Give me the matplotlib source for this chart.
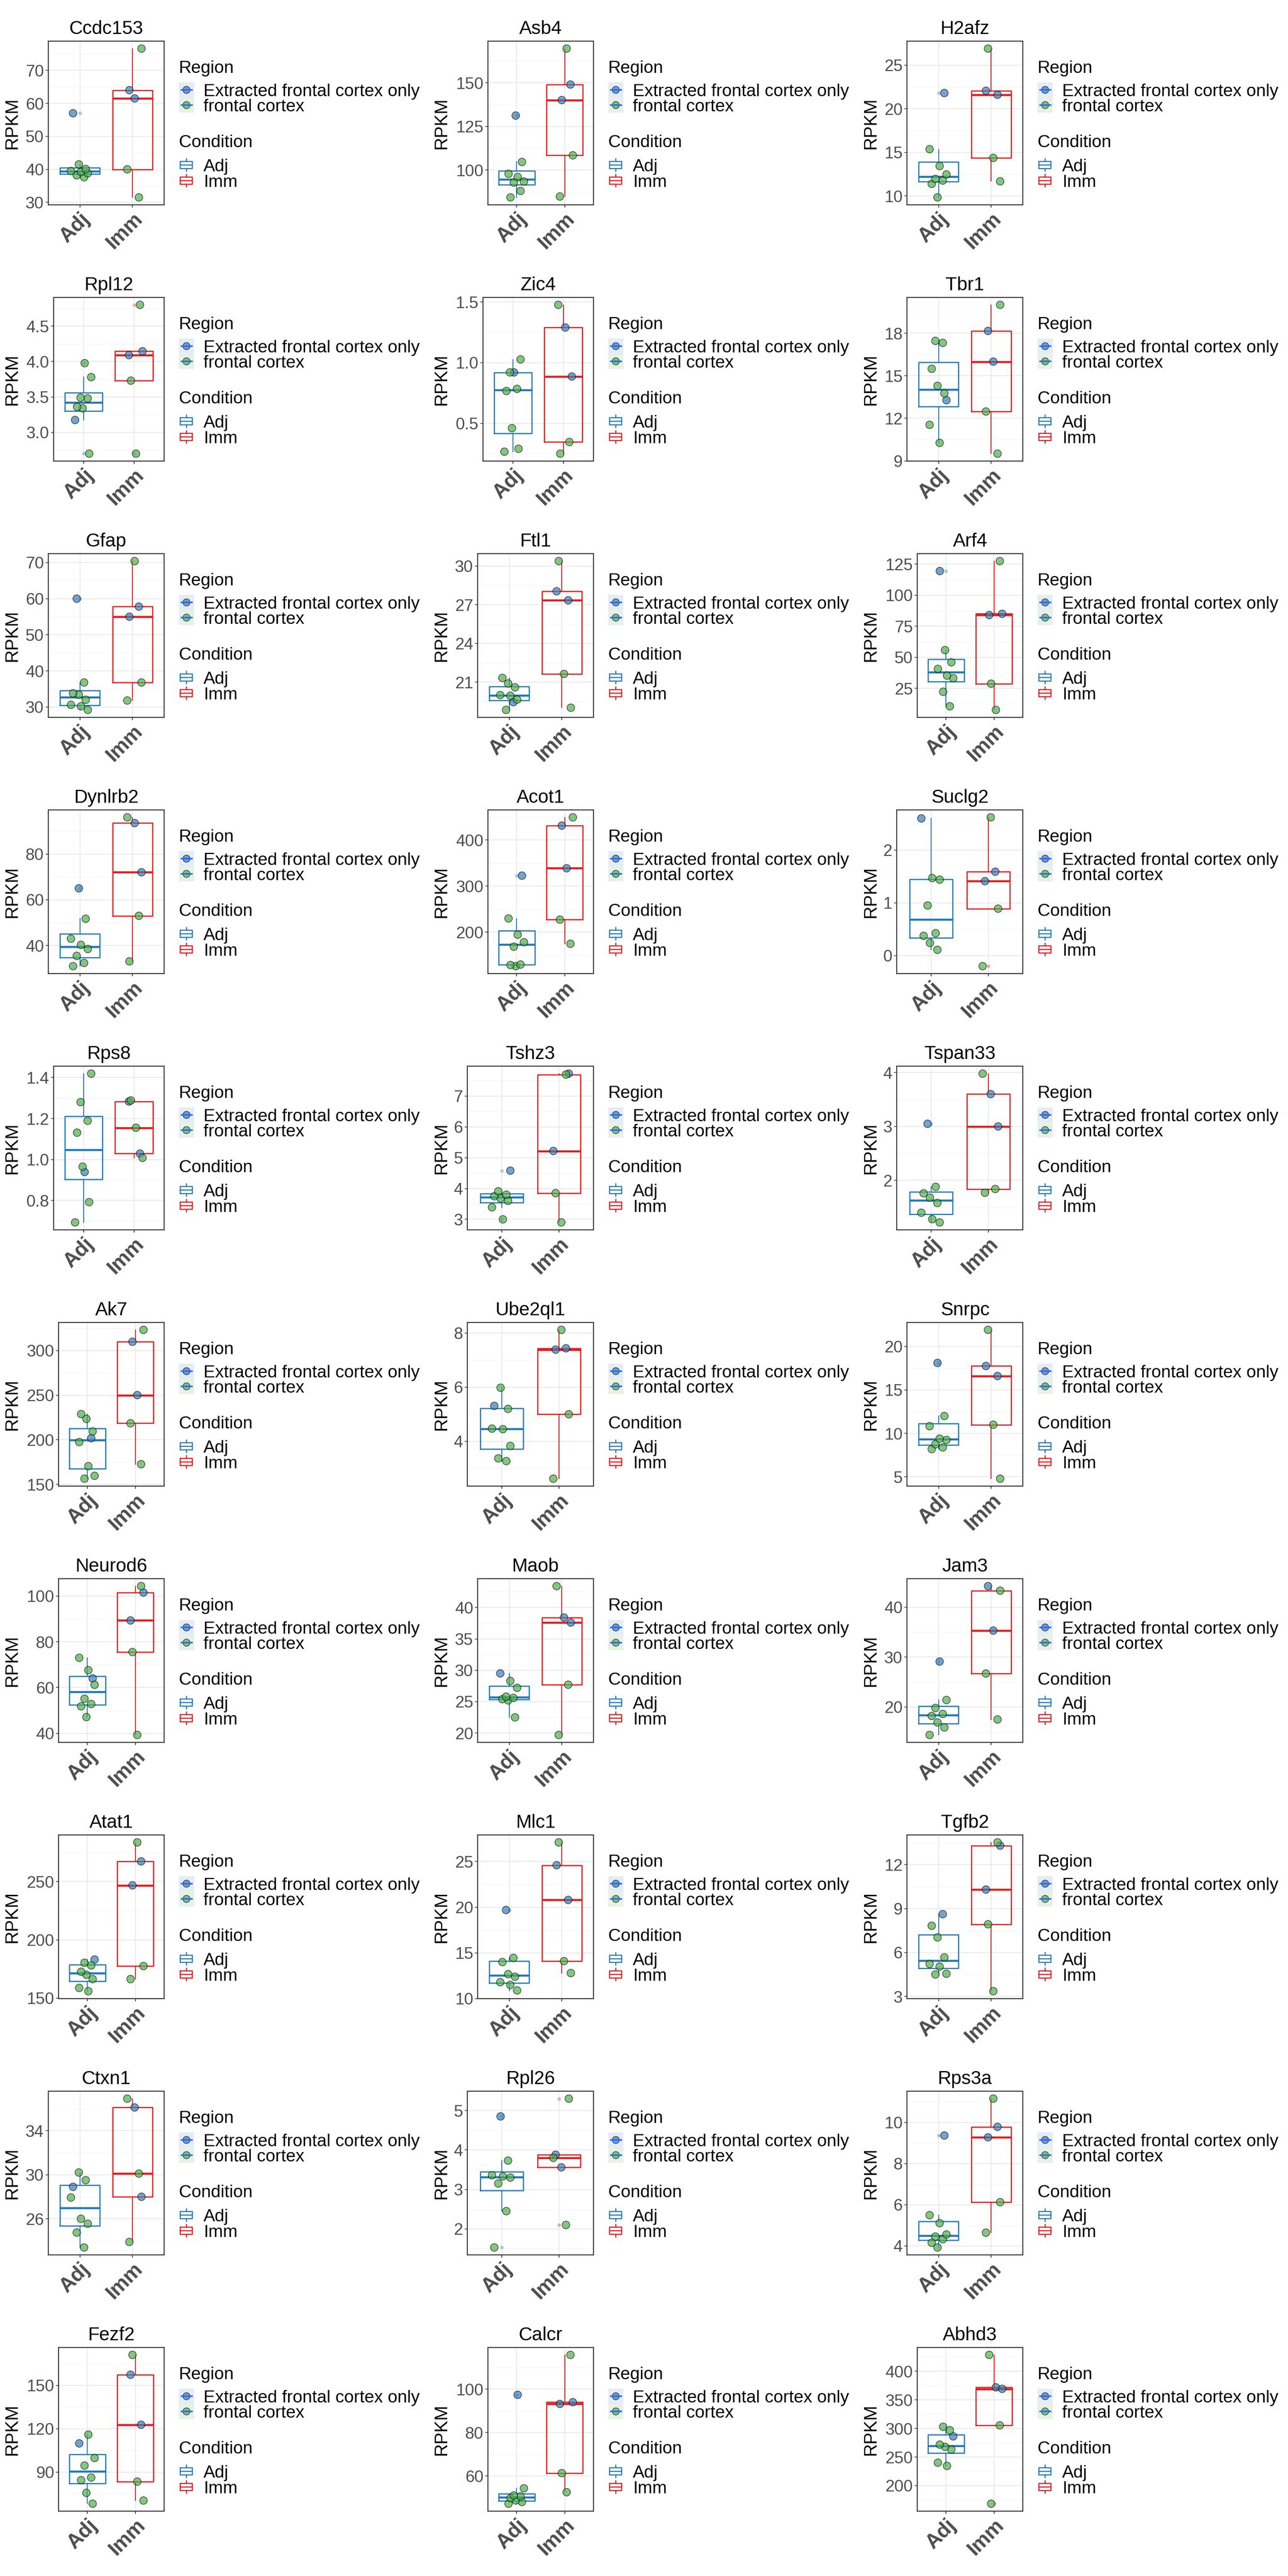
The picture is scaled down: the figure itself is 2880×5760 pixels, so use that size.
import numpy as np
import matplotlib
matplotlib.use('Agg')
import matplotlib.pyplot as plt
from matplotlib.patches import Rectangle, Circle

plt.rcParams['font.family'] = ['Liberation Sans', 'DejaVu Sans']

# ---- data (RPKM per sample) ----
genes = ['Ccdc153', 'Asb4', 'H2afz', 'Rpl12', 'Zic4', 'Tbr1',
         'Gfap', 'Ftl1', 'Arf4', 'Dynlrb2', 'Acot1', 'Suclg2',
         'Rps8', 'Tshz3', 'Tspan33', 'Ak7', 'Ube2ql1', 'Snrpc',
         'Neurod6', 'Maob', 'Jam3', 'Atat1', 'Mlc1', 'Tgfb2',
         'Ctxn1', 'Rpl26', 'Rps3a', 'Fezf2', 'Calcr', 'Abhd3']

# Adj group: one "Extracted frontal cortex only" sample + 7 "frontal cortex"
adj_blue = [57.0, 131.2, 21.8, 3.175, 0.92, 13.28,
            60.0, 19.45, 119.4, 65.0, 322.5, 2.6,
            0.939, 4.58, 3.05, 201.8, 5.31, 18.1,
            64.0, 29.5, 29.1, 183.1, 19.7, 8.62,
            28.9, 4.85, 9.36, 109.8, 97.4, 286.2]

adj_green = [
    [37.6, 38.2, 38.8, 39.2, 39.5, 40.1, 41.5],
    [84.3, 88.0, 92.8, 93.4, 96.0, 97.8, 104.6],
    [9.83, 11.38, 11.76, 11.95, 12.46, 13.43, 15.36],
    [2.70, 3.34, 3.36, 3.48, 3.49, 3.78, 3.977],
    [0.266, 0.29, 0.46, 0.767, 0.784, 0.92, 1.027],
    [10.27, 11.54, 13.76, 14.29, 15.49, 17.32, 17.46],
    [29.2, 30.2, 30.6, 32.0, 33.4, 33.8, 36.8],
    [18.85, 19.65, 19.95, 20.0, 20.6, 20.9, 21.33],
    [10.6, 22.3, 33.2, 35.3, 40.7, 46.0, 55.8],
    [31.0, 32.4, 35.5, 38.5, 40.3, 43.0, 51.7],
    [126, 128.5, 129.5, 168.3, 178, 194.4, 229.6],
    [0.11, 0.24, 0.375, 0.425, 0.95, 1.44, 1.47],
    [0.693, 0.792, 0.965, 1.131, 1.189, 1.28, 1.419],
    [3.0, 3.39, 3.60, 3.68, 3.75, 3.80, 3.91],
    [1.22, 1.28, 1.40, 1.58, 1.68, 1.76, 1.88],
    [156.5, 159.7, 170.5, 197.5, 209.4, 223.4, 228.8],
    [3.27, 3.37, 3.83, 4.45, 4.47, 5.2, 5.98],
    [8.2, 8.4, 8.75, 9.25, 9.4, 10.83, 12.0],
    [47.1, 51.8, 52.8, 55.1, 61.2, 67.6, 73.0],
    [22.5, 25.2, 25.4, 25.6, 25.8, 27.2, 28.3],
    [14.4, 15.9, 16.9, 18.2, 18.6, 19.8, 21.4],
    [155.9, 158.7, 166.3, 170, 172.6, 178, 180.3],
    [10.9, 11.5, 11.8, 12.4, 12.68, 14.0, 14.46],
    [4.5, 4.55, 5.04, 5.22, 5.67, 7.03, 7.83],
    [23.4, 24.75, 25.55, 26.0, 27.93, 29.5, 30.2],
    [1.53, 2.45, 3.15, 3.3, 3.33, 3.36, 3.73],
    [3.92, 4.15, 4.32, 4.45, 4.55, 5.1, 5.49],
    [68.1, 75.6, 84.4, 86.2, 94.5, 99.7, 115.9],
    [47.2, 48.0, 48.7, 49.8, 50.6, 51.0, 54.3],
    [234.5, 240.2, 263.2, 267.8, 271.8, 297, 302.9],
]

# Imm group: two "Extracted" + three "frontal cortex"
imm_blue = [
    [64.0, 61.5], [149.0, 140.1], [22.06, 21.6], [4.145, 4.09], [1.29, 0.886], [18.16, 16.0],
    [57.8, 55.0], [28.05, 27.35], [85.0, 84.0], [93.5, 72.0], [431, 338.5], [1.59, 1.41],
    [1.283, 1.029], [7.73, 5.22], [3.60, 3.0], [309.7, 250], [7.44, 7.39], [17.75, 16.6],
    [101.5, 89.3], [38.4, 37.6], [44.2, 35.3], [267.4, 246.8], [24.6, 20.8], [13.3, 10.3],
    [36.1, 28.0], [3.88, 3.56], [9.78, 9.27], [157.3, 122.7], [94.0, 93.2], [372, 369.3],
]

imm_green = [
    [76.6, 40.0, 31.5], [169.6, 108.4, 84.8], [26.9, 14.36, 11.67], [4.80, 3.73, 2.70],
    [1.477, 0.346, 0.25], [20.0, 12.48, 9.51],
    [70.4, 36.8, 31.8], [30.39, 21.64, 19.02], [127.4, 28.8, 7.7], [96.0, 53.0, 33.1],
    [449, 227, 174.6], [2.62, 0.89, -0.2],
    [1.288, 1.155, 1.008], [7.70, 3.85, 2.9], [3.98, 1.84, 1.77], [323, 218.5, 172.7],
    [8.12, 5.0, 2.62], [21.9, 11.0, 4.8],
    [104.3, 75.5, 39.3], [43.4, 27.7, 19.7], [43.3, 26.7, 17.5], [283.7, 177.5, 166.3],
    [27.1, 14.1, 12.8], [13.52, 7.93, 3.36],
    [36.9, 30.1, 23.9], [5.3, 3.8, 2.1], [11.15, 6.12, 4.64], [171, 83.4, 70.3],
    [115.8, 61.3, 52.5], [428.7, 305.5, 168.4],
]

yticks = [
    [30, 40, 50, 60, 70], [100, 125, 150], [10, 15, 20, 25], [3.0, 3.5, 4.0, 4.5], [0.5, 1.0, 1.5], [9, 12, 15, 18],
    [30, 40, 50, 60, 70], [21, 24, 27, 30], [25, 50, 75, 100, 125], [40, 60, 80], [200, 300, 400], [0, 1, 2],
    [0.8, 1.0, 1.2, 1.4], [3, 4, 5, 6, 7], [2, 3, 4], [150, 200, 250, 300], [4, 6, 8], [5, 10, 15, 20],
    [40, 60, 80, 100], [20, 25, 30, 35, 40], [20, 30, 40], [150, 200, 250], [10, 15, 20, 25], [3, 6, 9, 12],
    [26, 30, 34], [2, 3, 4, 5], [4, 6, 8, 10], [90, 120, 150], [60, 80, 100], [200, 250, 300, 350, 400],
]

conditions = ['Adj', 'Imm']
regions = ['Extracted frontal cortex only', 'frontal cortex']

# ---- style ----
COL_ADJ = '#1F78B4'
COL_IMM = '#E31A1C'
FILL_BLUE = '#377EB8'
FILL_GREEN = '#4DAF4A'
KEY_LINE = '#3366FF'
GREY30 = '#4D4D4D'

W, H = 2880, 5760
DPI = 200
PX = 72 / DPI          # points per pixel
COLW, ROWH = 960, 573

jit_adj = [-0.13, 0.08, -0.06, 0.15, 0.02, -0.17, 0.11, -0.02]
jit_imm = [-0.06, 0.04, 0.17, -0.10, 0.12]

fig = plt.figure(figsize=(W / DPI, H / DPI), dpi=DPI)
fig.patch.set_facecolor('white')

# overlay in pixel coordinates for titles / legends
ov = fig.add_axes([0, 0, 1, 1], zorder=10)
ov.set_xlim(0, W)
ov.set_ylim(H, 0)
ov.axis('off')
ov.patch.set_alpha(0)


def fmt_ticks(t):
    if any(isinstance(v, float) for v in t):
        return ['%.1f' % v for v in t]
    return [str(v) for v in t]


for i, gene in enumerate(genes):
    r, c = divmod(i, 3)
    x0, y0 = COLW * c, ROWH * r
    labs = fmt_ticks(yticks[i])
    nch = max(sum(0.5 if ch == '.' else 1 for ch in s) for s in labs)
    left = x0 + 62 + 23 * nch
    right = x0 + 367
    top, bottom = y0 + 92, y0 + 458

    ax = fig.add_axes([left / W, 1 - bottom / H, (right - left) / W, (bottom - top) / H])

    adj = [adj_blue[i]] + adj_green[i]
    imm = imm_blue[i] + imm_green[i]

    allv = adj + imm
    lo, hi = min(allv), max(allv)
    pad = 0.05 * (hi - lo)
    ax.set_ylim(lo - pad, hi + pad)
    ax.set_xlim(0.4, 2.6)

    # boxes
    bp = ax.boxplot([adj, imm], positions=[1, 2], widths=0.75, whis=1.5,
                    manage_ticks=False, zorder=2)
    for k, col in enumerate([COL_ADJ, COL_IMM]):
        bp['boxes'][k].set(color=col, linewidth=2.6 * PX)
        bp['medians'][k].set(color=col, linewidth=4.5 * PX)
        for w in bp['whiskers'][2 * k:2 * k + 2]:
            w.set(color=col, linewidth=2.0 * PX)
        for cp in bp['caps'][2 * k:2 * k + 2]:
            cp.set_visible(False)
        bp['fliers'][k].set(marker='o', markersize=8 * PX, markerfacecolor=col,
                            markeredgecolor='none', alpha=0.35)

    # jittered points
    ja = np.roll(jit_adj, i)
    jm = np.roll(jit_imm, i)
    xs = [1 + ja[0]] + [1 + j for j in ja[1:]] + [2 + j for j in jm]
    ys = adj + imm
    fills = [FILL_BLUE] + [FILL_GREEN] * 7 + [FILL_BLUE] * 2 + [FILL_GREEN] * 3
    ax.scatter(xs, ys, s=(17 * PX) ** 2, c=fills, alpha=0.7,
               edgecolors='black', linewidths=0.5, zorder=3)

    # grid
    t = yticks[i]
    step = t[1] - t[0]
    minors = [t[0] - step / 2] + [v + step / 2 for v in t]
    minors = [m for m in minors if lo - pad < m < hi + pad]
    ax.set_yticks(t)
    ax.set_yticklabels(labs)
    ax.set_yticks(minors, minor=True)
    ax.set_xticks([1, 2])
    ax.set_xticklabels(conditions, rotation=45, ha='right', va='top',
                       rotation_mode='anchor', fontweight='bold')
    ax.grid(which='major', color='#EBEBEB', linewidth=2.2 * PX)
    ax.grid(which='minor', axis='y', color='#F4F4F4', linewidth=1.2 * PX)
    ax.set_axisbelow(True)
    ax.tick_params(axis='y', which='major', labelsize=37 * PX, labelcolor=GREY30,
                   length=6 * PX, width=1.5 * PX, color='#333333', pad=4 * PX)
    ax.tick_params(axis='y', which='minor', length=0)
    ax.tick_params(axis='x', labelsize=46 * PX, labelcolor=GREY30,
                   length=6 * PX, width=1.8 * PX, color='#333333', pad=3 * PX)
    for s in ['left', 'right', 'top', 'bottom']:
        ax.spines[s].set(color='#333333', linewidth=2.2 * PX)

    # title and y label
    ov.text((left + right) / 2, y0 + 76, gene, ha='center', va='baseline', fontsize=42 * PX)
    ov.text(x0 + 27, (top + bottom) / 2, 'RPKM', rotation=90, ha='center', va='center',
            fontsize=40 * PX)

    # legend: Region
    lx = x0 + 400
    ov.text(lx, y0 + 163, 'Region', ha='left', va='baseline', fontsize=39 * PX)
    for k, (fill, bg) in enumerate([(FILL_BLUE, '#E4EDF6'), (FILL_GREEN, '#E6F2E5')]):
        cy = y0 + 201 + 34 * k
        ov.add_patch(Rectangle((lx, cy - 17), 34, 34, facecolor=bg, edgecolor='none'))
        ov.add_patch(Circle((lx + 17, cy), 8, facecolor=fill, alpha=0.7,
                            edgecolor='black', linewidth=0.5))
        ov.plot([lx + 4, lx + 31], [cy, cy], color=KEY_LINE, linewidth=3.5 * PX,
                solid_capstyle='butt')
        ov.text(lx + 55, cy + 14, regions[k], ha='left', va='baseline', fontsize=39 * PX)

    # legend: Condition
    ov.text(lx, y0 + 329, 'Condition', ha='left', va='baseline', fontsize=39 * PX)
    for k, col in enumerate([COL_ADJ, COL_IMM]):
        cy = y0 + 369 + 35 * k
        ov.add_patch(Rectangle((lx + 3, cy - 8), 27, 16, facecolor='none', edgecolor=col,
                               linewidth=2.4 * PX))
        ov.plot([lx + 3, lx + 30], [cy, cy], color=col, linewidth=2.4 * PX)
        ov.plot([lx + 16.5, lx + 16.5], [cy - 14, cy - 8], color=col, linewidth=2.4 * PX)
        ov.plot([lx + 16.5, lx + 16.5], [cy + 8, cy + 14], color=col, linewidth=2.4 * PX)
        ov.text(lx + 55, cy + 14, conditions[k], ha='left', va='baseline', fontsize=39 * PX)

fig.savefig('out.png', dpi=DPI, facecolor='white')
